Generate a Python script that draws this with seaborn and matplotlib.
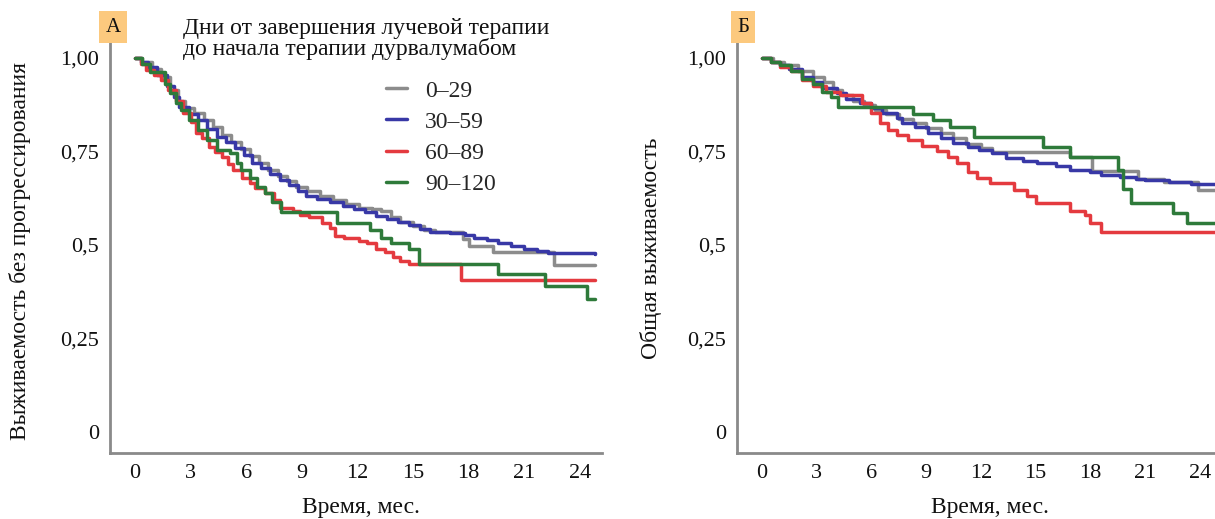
import numpy as np
import pandas as pd
import matplotlib
matplotlib.use("Agg")
import matplotlib.pyplot as plt
import seaborn as sns

# ---------------- data ----------------
groups = ["0–29", "30–59", "60–89", "90–120"]
colors = ["#8c8c8c", "#3838a6", "#e43a3f", "#2e7a3a"]

# Panel A: progression-free survival (time in months, survival)
a_gray_t = [0, 0.4, 0.9, 1.4, 1.9, 2.3, 2.7, 3.2, 3.7, 4.2, 4.7, 5.2, 5.7, 6.2, 6.7, 7.2, 7.7, 8.2, 8.7, 9.3,
            10.0, 10.7, 11.4, 12.1, 12.8, 13.3, 13.8, 14.3, 15.0, 15.6, 16.2, 17.7, 18.0, 19.3, 22.6, 24.8]
a_gray_s = [1.0, 0.99, 0.97, 0.95, 0.915, 0.885, 0.865, 0.852, 0.835, 0.815, 0.795, 0.775, 0.757, 0.737, 0.72, 0.70,
            0.685, 0.67, 0.655, 0.645, 0.63, 0.62, 0.61, 0.60, 0.595, 0.59, 0.575, 0.562, 0.55, 0.54, 0.535,
            0.515, 0.497, 0.48, 0.447, 0.447]

a_blue_t = [0, 0.3, 0.7, 1.2, 1.7, 2.1, 2.4, 2.9, 3.4, 3.9, 4.4, 4.9, 5.4, 5.9, 6.3, 6.8, 7.3, 7.8, 8.3, 8.8,
            9.2, 9.8, 10.5, 11.2, 11.8, 12.4, 13.0, 13.6, 14.2, 14.8, 15.4, 15.9, 17.0, 17.8, 18.3, 19.0,
            19.6, 20.3, 21.0, 21.7, 22.3, 24.8]
a_blue_s = [1.0, 0.99, 0.975, 0.955, 0.925, 0.895, 0.87, 0.85, 0.835, 0.81, 0.79, 0.775, 0.76, 0.74, 0.72, 0.705,
            0.69, 0.675, 0.66, 0.645, 0.63, 0.622, 0.614, 0.605, 0.597, 0.588, 0.578, 0.57, 0.562, 0.553,
            0.544, 0.536, 0.533, 0.528, 0.52, 0.513, 0.505, 0.497, 0.49, 0.484, 0.479, 0.476]

a_red_t = [0, 0.3, 0.6, 1.0, 1.4, 1.8, 2.2, 2.6, 3.0, 3.3, 3.6, 4.0, 4.3, 4.7, 5.0, 5.3, 5.8, 6.2, 6.5, 7.0,
           7.5, 7.8, 8.5, 8.9, 9.4, 10.1, 10.5, 10.8, 11.3, 12.1, 12.5, 13.0, 13.5, 13.9, 14.3, 14.8, 17.6, 24.8]
a_red_s = [1.0, 0.985, 0.968, 0.955, 0.94, 0.915, 0.885, 0.853, 0.83, 0.80, 0.785, 0.762, 0.748, 0.735, 0.717,
           0.70, 0.68, 0.666, 0.652, 0.64, 0.62, 0.60, 0.59, 0.58, 0.575, 0.56, 0.545, 0.525, 0.52, 0.51,
           0.505, 0.49, 0.48, 0.468, 0.458, 0.448, 0.407, 0.407]

a_green_t = [0, 0.4, 0.8, 1.6, 1.9, 2.2, 2.5, 2.9, 3.4, 3.9, 4.4, 5.1, 5.5, 5.7, 6.2, 6.6, 7.0, 7.4, 7.9,
             10.9, 12.7, 13.3, 13.8, 14.8, 15.3, 19.6, 22.1, 24.4, 24.8]
a_green_s = [1.0, 0.985, 0.963, 0.93, 0.906, 0.88, 0.86, 0.834, 0.807, 0.78, 0.754, 0.746, 0.72, 0.70, 0.68,
             0.655, 0.64, 0.615, 0.588, 0.56, 0.54, 0.52, 0.505, 0.49, 0.45, 0.422, 0.39, 0.355, 0.355]

# Panel B: overall survival
b_gray_t = [0, 0.6, 1.2, 2.0, 2.8, 3.4, 3.9, 4.4, 5.0, 5.6, 6.2, 6.8, 7.5, 8.3, 9.0, 9.8, 10.5, 11.2, 12.0,
            12.6, 16.9, 18.1, 20.6, 22.0, 23.9, 24.8]
b_gray_s = [1.0, 0.99, 0.98, 0.965, 0.95, 0.935, 0.915, 0.90, 0.885, 0.875, 0.86, 0.85, 0.838, 0.825, 0.813,
            0.80, 0.785, 0.77, 0.758, 0.749, 0.735, 0.697, 0.676, 0.668, 0.648, 0.648]

b_blue_t = [0, 0.5, 1.0, 1.5, 2.2, 2.8, 3.3, 4.1, 4.6, 5.4, 6.0, 6.6, 7.4, 7.7, 8.4, 9.1, 9.8, 10.5, 11.3,
            11.9, 12.6, 13.4, 14.3, 15.1, 16.1, 16.9, 18.0, 18.6, 19.6, 20.5, 21.0, 22.3, 23.5, 24.8]
b_blue_s = [1.0, 0.99, 0.98, 0.97, 0.95, 0.935, 0.92, 0.906, 0.89, 0.88, 0.865, 0.853, 0.84, 0.826, 0.815,
            0.80, 0.787, 0.773, 0.763, 0.754, 0.745, 0.733, 0.725, 0.719, 0.71, 0.70, 0.695, 0.688, 0.682,
            0.677, 0.673, 0.668, 0.663, 0.662]

b_red_t = [0, 0.5, 1.0, 1.6, 2.2, 2.8, 3.5, 4.3, 5.5, 6.0, 6.5, 6.9, 7.4, 8.0, 8.8, 9.6, 10.2, 10.7, 11.3,
           11.8, 12.5, 13.8, 14.5, 15.0, 16.9, 17.7, 18.0, 18.6, 24.8]
b_red_s = [1.0, 0.99, 0.975, 0.965, 0.94, 0.925, 0.91, 0.90, 0.88, 0.853, 0.825, 0.807, 0.794, 0.78, 0.765,
           0.75, 0.735, 0.72, 0.695, 0.68, 0.667, 0.647, 0.63, 0.612, 0.59, 0.58, 0.56, 0.535, 0.535]

b_green_t = [0, 0.5, 1.0, 1.6, 2.2, 2.8, 3.3, 3.8, 4.2, 8.3, 9.4, 10.3, 11.6, 15.4, 16.9, 19.5, 19.8, 20.2,
             22.5, 23.3, 24.8]
b_green_s = [1.0, 0.99, 0.98, 0.965, 0.945, 0.93, 0.91, 0.895, 0.869, 0.85, 0.834, 0.815, 0.789, 0.762,
             0.735, 0.70, 0.65, 0.612, 0.585, 0.56, 0.56]

x_ticks = [0, 3, 6, 9, 12, 15, 18, 21, 24]
y_ticks = [0, 0.25, 0.5, 0.75, 1.0]
y_ticklabels = ["0", "0,25", "0,5", "0,75", "1,00"]

legend_title = "Дни от завершения лучевой терапии\nдо начала терапии дурвалумабом"
xlabel = "Время, мес."
ylabel_a = "Выживаемость без прогрессирования"
ylabel_b = "Общая выживаемость"


def make_df(series):
    frames = []
    for g, t, s in series:
        frames.append(pd.DataFrame({"t": t, "S": s, "group": g}))
    return pd.concat(frames, ignore_index=True)


df_a = make_df([(groups[0], a_gray_t, a_gray_s), (groups[1], a_blue_t, a_blue_s),
                (groups[2], a_red_t, a_red_s), (groups[3], a_green_t, a_green_s)])
df_b = make_df([(groups[0], b_gray_t, b_gray_s), (groups[1], b_blue_t, b_blue_s),
                (groups[2], b_red_t, b_red_s), (groups[3], b_green_t, b_green_s)])

# ---------------- style ----------------
sns.set_theme(style="white")
plt.rcParams["font.family"] = ["Liberation Serif", "DejaVu Serif"]
plt.rcParams["axes.unicode_minus"] = False

W, H = 1215, 519
fig = plt.figure(figsize=(W / 100, H / 100), dpi=100)

pal = dict(zip(groups, colors))
spine_c = "#8a8a8a"
FS = 17      # labels, legend
FT = 16      # tick labels
TXT = "#111111"

ax_a = fig.add_axes([110 / W, 1 - 453 / H, (602 - 110) / W, (453 - 40) / H])
ax_b = fig.add_axes([737 / W, 1 - 453 / H, (1222 - 737) / W, (453 - 40) / H])

for ax, df in ((ax_a, df_a), (ax_b, df_b)):
    sns.lineplot(data=df, x="t", y="S", hue="group", hue_order=groups, palette=pal,
                 estimator=None, sort=False, drawstyle="steps-post", linewidth=2.5,
                 ax=ax, legend=(ax is ax_a))
    ax.set_xlim(-1.35, 25.2)
    ax.set_ylim(-0.056, 1.048)
    ax.set_xticks(x_ticks)
    ax.set_xticklabels([str(v) for v in x_ticks])
    ax.set_yticks(y_ticks)
    ax.set_yticklabels(y_ticklabels)
    for sp in ("top", "right"):
        ax.spines[sp].set_visible(False)
    for sp in ("left", "bottom"):
        ax.spines[sp].set_color(spine_c)
        ax.spines[sp].set_linewidth(2.0)
    ax.tick_params(axis="both", which="major", length=3, width=1.5, color=spine_c,
                   labelsize=FT, labelcolor=TXT, direction="out", pad=5)
    ax.set_xlabel(xlabel, fontsize=FS, color=TXT)

ax_a.set_ylabel(ylabel_a, fontsize=FS, color=TXT)
ax_b.set_ylabel(ylabel_b, fontsize=FS, color=TXT)
ax_a.yaxis.set_label_coords(20 / W, 1 - 251 / H, transform=fig.transFigure)
ax_b.yaxis.set_label_coords(651 / W, 1 - 248 / H, transform=fig.transFigure)
ax_a.xaxis.set_label_coords(361 / W, 1 - 508 / H, transform=fig.transFigure)
ax_b.xaxis.set_label_coords(990 / W, 1 - 508 / H, transform=fig.transFigure)
for lab in (ax_a.xaxis.label, ax_b.xaxis.label, ax_a.yaxis.label, ax_b.yaxis.label):
    lab.set_va("center")

# legend
handles, labels = ax_a.get_legend_handles_labels()
ax_a.legend(handles, labels, loc="upper left", bbox_to_anchor=(386 / W, 1 - 80 / H),
            bbox_transform=fig.transFigure, frameon=False, fontsize=FS,
            handlelength=0.9, handletextpad=0.75, labelspacing=0.41, borderpad=0, borderaxespad=0)
fig.text(183 / W, 1 - 18 / H, legend_title, ha="left", va="top", fontsize=FS, linespacing=0.95,
         color=TXT)

# panel letters
for x, letter in ((113, "А"), (743, "Б")):
    fig.text(x / W, 1 - 27 / H, letter, ha="center", va="center", fontsize=15, color=TXT,
             bbox=dict(boxstyle="square,pad=0.3", fc="#fcc97e", ec="none"))

fig.savefig("out.png", dpi=100, facecolor="white")
